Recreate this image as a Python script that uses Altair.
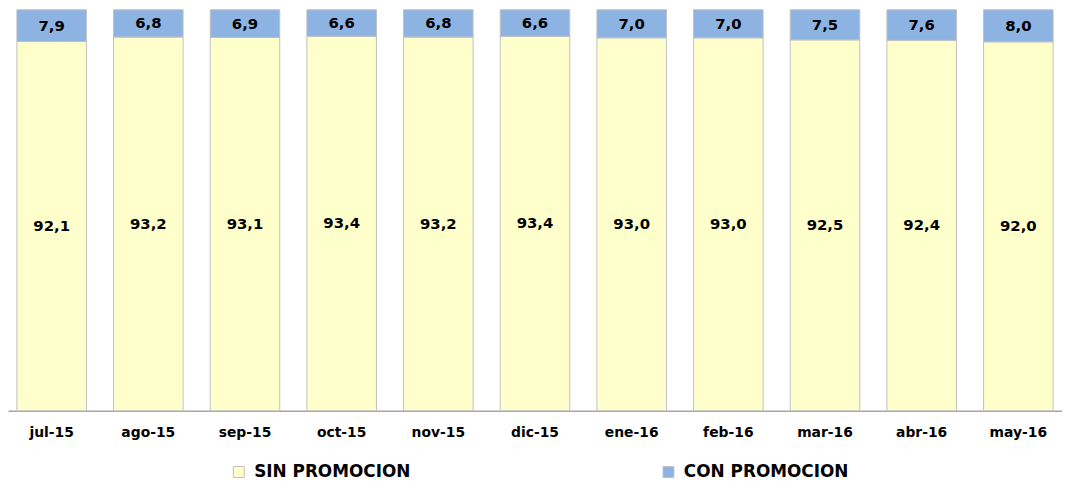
import altair as alt
import pandas as pd

meses = ["jul-15", "ago-15", "sep-15", "oct-15", "nov-15", "dic-15",
         "ene-16", "feb-16", "mar-16", "abr-16", "may-16"]
sin_promocion = [92.1, 93.2, 93.1, 93.4, 93.2, 93.4, 93.0, 93.0, 92.5, 92.4, 92.0]
con_promocion = [7.9, 6.8, 6.9, 6.6, 6.8, 6.6, 7.0, 7.0, 7.5, 7.6, 8.0]
series = ["SIN PROMOCION", "CON PROMOCION"]
colores = ["#FFFFCC", "#8DB3E2"]

rows = []
for i, m in enumerate(meses):
    for orden, (s, vals) in enumerate(zip(series, [sin_promocion, con_promocion])):
        v = vals[i]
        rows.append({"mes": m, "serie": s, "valor": v, "orden": orden,
                     "etiqueta": f"{v:.1f}".replace(".", ",")})
df = pd.DataFrame(rows)

FONT = "DejaVu Sans"

base = alt.Chart(df).transform_stack(
    stack="valor", groupby=["mes"], as_=["y0", "y1"],
    sort=[alt.SortField("orden", order="ascending")]
).transform_calculate(ym="(datum.y0 + datum.y1) / 2")

x_enc = alt.X(
    "mes:N", sort=meses,
    scale=alt.Scale(paddingInner=0.281, paddingOuter=0.092),
    axis=alt.Axis(title=None, labelAngle=0, ticks=False, domainColor="#a6a6a6",
                  domainWidth=1.5, labelFont=FONT, labelFontWeight="bold",
                  labelFontSize=14, labelColor="#000000", labelPadding=15),
)
y_scale = alt.Scale(domain=[0, 100], nice=False, zero=True)

bars = base.mark_bar(stroke="#bfbfbf", strokeWidth=1).encode(
    x=x_enc,
    y=alt.Y("y0:Q", scale=y_scale, axis=None),
    y2="y1:Q",
    color=alt.Color(
        "serie:N",
        scale=alt.Scale(domain=series, range=colores),
        legend=alt.Legend(
            title=None, orient="none", legendX=224, legendY=457,
            direction="horizontal", columnPadding=251,
            labelFont=FONT, labelFontWeight="bold", labelFontSize=17,
            labelColor="#000000", labelOffset=7, labelLimit=400,
            symbolType="square", symbolSize=121, symbolStrokeColor="#bfbfbf",
            symbolStrokeWidth=1,
        ),
    ),
)

labels = base.mark_text(font=FONT, fontWeight="bold", fontSize=15,
                        color="#000000", baseline="middle").encode(
    x=alt.X("mes:N", sort=meses),
    y=alt.Y("ym:Q", scale=y_scale),
    text="etiqueta:N",
)

chart = (bars + labels).properties(
    width=1062, height=404,
    autosize=alt.AutoSizeParams(type="none"),
    padding={"left": 0, "top": 0, "right": 0, "bottom": 69},
).configure_view(stroke=None)

chart.save("out.html", embed_options={"renderer": "svg", "actions": False})
